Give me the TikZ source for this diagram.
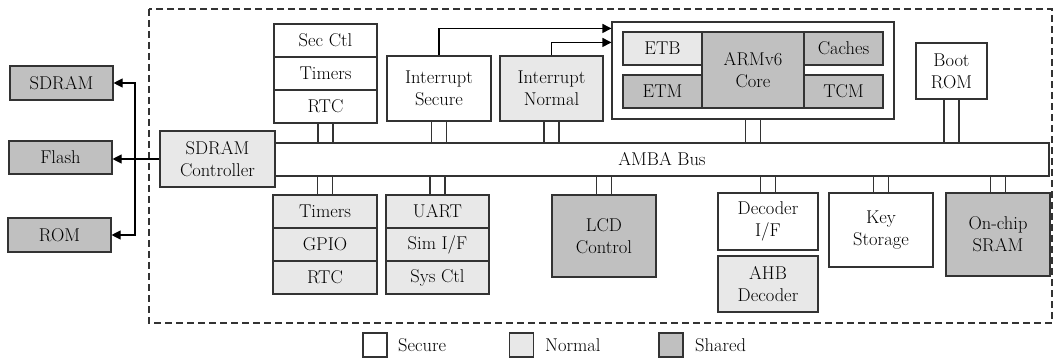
\documentclass[tikz,border=0pt]{standalone}
\usetikzlibrary{arrows.meta}
\definecolor{edgec}{HTML}{333333}
\definecolor{normalc}{HTML}{E8E8E8}
\definecolor{sharedc}{HTML}{C0C0C0}
\newcommand{\lbl}{\fontsize{18.5}{22}\selectfont}
\tikzset{
  box/.style={draw=edgec, line width=1.1pt, inner sep=0pt, align=center, font=\lbl, text=black},
  sec/.style={box, fill=white},
  nor/.style={box, fill=normalc},
  sha/.style={box, fill=sharedc},
  wh/.style 2 args={minimum width=#1pt, minimum height=#2pt},
  link/.style={draw=edgec, line width=1.1pt},
  arr/.style={draw=black, line width=1.1pt, -{Triangle[length=9pt,width=9pt]}},
  legtext/.style={anchor=west, inner sep=0pt, font=\lbl, text=black},
}
\begin{document}
\begin{tikzpicture}[x=1pt, y=-1pt]
\useasboundingbox (0,0) rectangle (1055,358);

% chip boundary
\draw[edgec, line width=1.1pt, dash pattern=on 7pt off 4pt] (149,9) rectangle (1052,323);

% external memories
\node[sha, wh={103}{34}] (sdram) at (61.5,83) {SDRAM};
\node[sha, wh={103}{33}] (flash) at (60.5,157.5) {Flash};
\node[sha, wh={103}{34}] (rom) at (59.5,235) {ROM};

% bus and memory controller
\node[sec, wh={774}{33}] (bus) at (662,159.5) {AMBA Bus};
\node[nor, wh={115}{56}] (ctrl) at (217.5,159) {SDRAM\\Controller};

% secure peripheral stack
\node[sec, wh={103}{33}] (secctl) at (325.5,40.5) {Sec Ctl};
\node[sec, wh={103}{33}] (stimers) at (325.5,73.5) {Timers};
\node[sec, wh={103}{33}] (srtc) at (325.5,106.5) {RTC};

% interrupt controllers
\node[sec, wh={104}{65}] (isec) at (439,88.5) {Interrupt\\Secure};
\node[nor, wh={103}{65}] (inor) at (551.5,88.5) {Interrupt\\Normal};

% processor block
\node[sec, wh={282}{97}] (arm) at (753,70.5) {};
\node[nor, wh={79}{33}] (etb) at (662.5,48.5) {ETB};
\node[sha, wh={79}{33}] (etm) at (662.5,91.5) {ETM};
\node[sha, wh={102}{76}] (core) at (753,70) {ARMv6\\Core};
\node[sha, wh={79}{33}] (caches) at (843.5,48.5) {Caches};
\node[sha, wh={79}{33}] (tcm) at (843.5,91.5) {TCM};

\node[sec, wh={71}{56}] (boot) at (951.5,71) {Boot\\ROM};

% normal peripheral stacks
\node[nor, wh={104}{33}] (ntimers) at (325,211.5) {Timers};
\node[nor, wh={104}{33}] (gpio) at (325,244.5) {GPIO};
\node[nor, wh={104}{33}] (nrtc) at (325,277.5) {RTC};
\node[nor, wh={103}{33}] (uart) at (437.5,211.5) {UART};
\node[nor, wh={103}{33}] (simif) at (437.5,244.5) {Sim I/F};
\node[nor, wh={103}{33}] (sysctl) at (437.5,277.5) {Sys Ctl};

\node[sha, wh={104}{82}] (lcd) at (604,236) {LCD\\Control};
\node[sec, wh={100}{57}] (decif) at (768,221.5) {Decoder\\I/F};
\node[nor, wh={100}{56}] (ahb) at (768,284) {AHB\\Decoder};
\node[sec, wh={104}{74}] (key) at (881,230) {Key\\Storage};
\node[sha, wh={104}{83}] (sram) at (998,234.5) {On-chip\\SRAM};

% bus attachments (pairs of lines)
\foreach \n in {srtc, isec, inor, arm, boot}{
  \draw[link] ([xshift=-7.5pt]\n.south) -- ([xshift=-7.5pt]\n.south |- bus.north);
  \draw[link] ([xshift=7.5pt]\n.south) -- ([xshift=7.5pt]\n.south |- bus.north);
}
\foreach \n in {ntimers, uart, lcd, decif, key, sram}{
  \draw[link] ([xshift=-7.5pt]\n.north) -- ([xshift=-7.5pt]\n.north |- bus.south);
  \draw[link] ([xshift=7.5pt]\n.north) -- ([xshift=7.5pt]\n.north |- bus.south);
}

% interrupt lines to the core
\draw[arr] (isec.north) |- ([yshift=-7pt]arm.north west);
\draw[arr] (inor.north) |- ([yshift=-21pt]arm.north west);

% external memory interface
\coordinate (fan) at (135,159);
\draw[arr] (ctrl.west) -- (ctrl.west -| flash.east);
\draw[arr] (fan) |- (sdram.east);
\draw[arr] (fan) |- (rom.east);

% legend
\node[sec, wh={24}{24}] (legs) at (375,345) {};
\node[legtext] (legst) at (398,345) {Secure};
\node[nor, wh={24}{24}] (legn) at (521.5,345) {};
\node[legtext] (legnt) at (545,345) {Normal};
\node[sha, wh={24}{24}] (legh) at (671,345) {};
\node[legtext] (leght) at (695,345) {Shared};
\end{tikzpicture}
\end{document}
